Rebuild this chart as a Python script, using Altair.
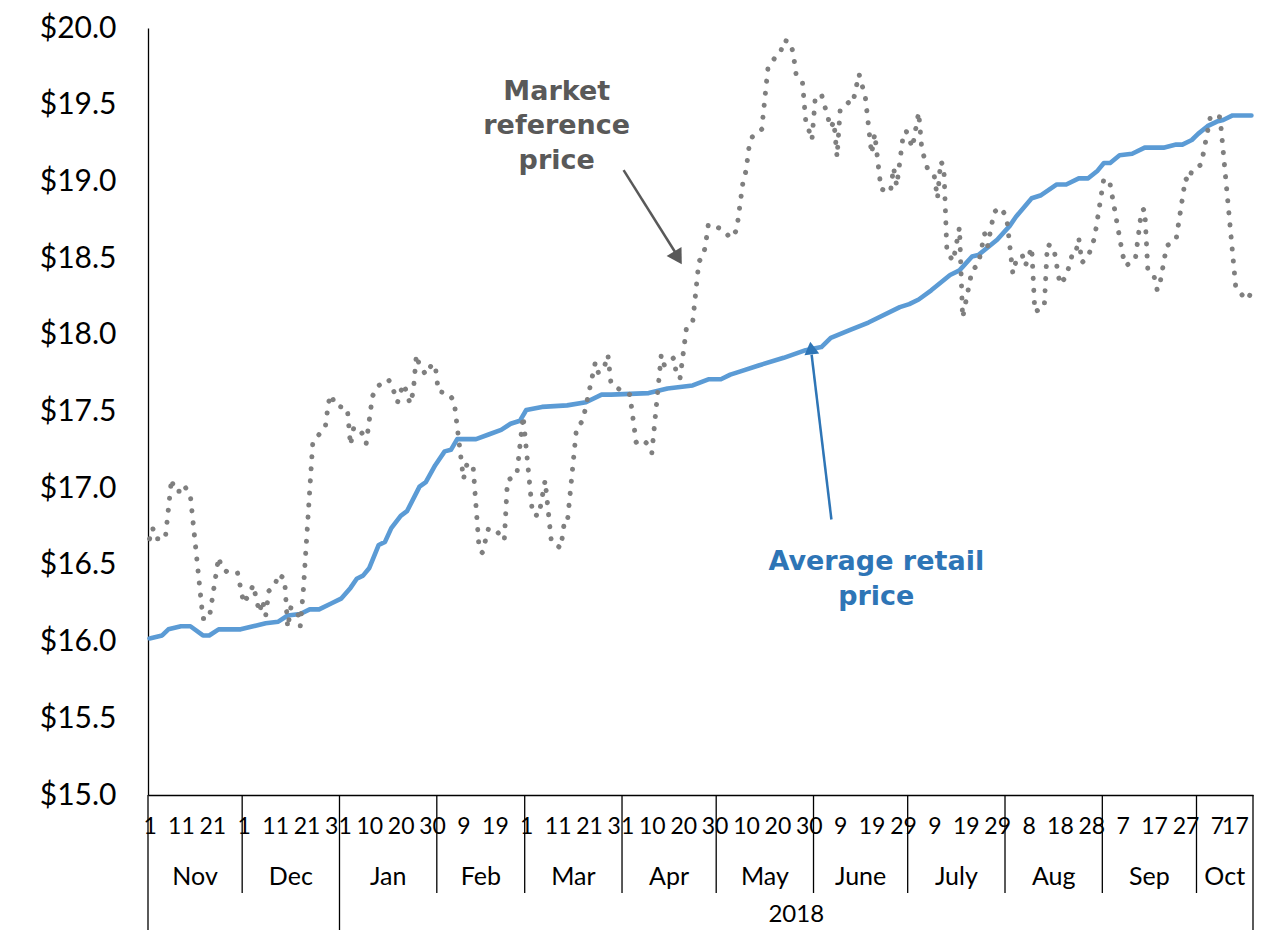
import json
import datetime as dt
import altair as alt
import pandas as pd

START = dt.date(2017, 11, 1)
N_DAYS = 352

# Average retail price (day offset from 1 Nov 2017, $)
blue_off = [0, 4, 6, 10, 13, 17, 19, 22, 29, 33, 37, 41, 44, 48, 51, 54, 58, 61, 64, 66,
            68, 70, 73, 75, 77, 80, 82, 86, 88, 91, 94, 96, 98, 104, 108, 112, 115, 118, 120, 125,
            133, 139, 144, 147, 159, 165, 173, 178, 182, 185, 188, 194, 202, 209, 214, 217, 223, 229, 239, 242,
            245, 249, 255, 258, 262, 264, 270, 274, 276, 281, 284, 289, 292, 296, 299, 302, 304, 306, 309, 313,
            317, 323, 327, 329, 332, 334, 337, 340, 342, 345, 351]
blue_val = [16.02, 16.04, 16.08, 16.10, 16.10, 16.04, 16.04, 16.08, 16.08, 16.10, 16.12, 16.13, 16.17, 16.18, 16.21, 16.21, 16.25, 16.28, 16.35, 16.41,
            16.43, 16.48, 16.63, 16.65, 16.74, 16.82, 16.85, 17.01, 17.04, 17.15, 17.24, 17.25, 17.32, 17.32, 17.35, 17.38, 17.42, 17.44, 17.51, 17.53,
            17.54, 17.56, 17.61, 17.61, 17.62, 17.65, 17.67, 17.71, 17.71, 17.74, 17.76, 17.80, 17.85, 17.90, 17.92, 17.98, 18.03, 18.08, 18.18, 18.20,
            18.23, 18.29, 18.39, 18.42, 18.51, 18.52, 18.62, 18.71, 18.77, 18.89, 18.91, 18.98, 18.98, 19.02, 19.02, 19.07, 19.12, 19.12, 19.17, 19.18,
            19.22, 19.22, 19.24, 19.24, 19.27, 19.31, 19.36, 19.39, 19.40, 19.43, 19.43]

# Market reference price (day offset, $)
gray_off = [0, 1, 2, 5, 7, 8, 10, 11, 13, 17, 19, 22, 23, 25, 28, 30, 32, 33, 35, 36,
            37, 38, 40, 41, 43, 44, 45, 47, 48, 49, 52, 54, 56, 57, 58, 59, 61, 63, 64, 65,
            66, 68, 69, 71, 73, 76, 77, 79, 80, 81, 83, 84, 85, 86, 88, 90, 91, 92, 95, 97,
            100, 101, 103, 105, 106, 108, 111, 113, 114, 117, 119, 122, 124, 126, 128, 131, 132, 133, 136, 138,
            142, 143, 145, 146, 147, 150, 153, 155, 157, 159, 160, 163, 164, 167, 168, 169, 171, 173, 175, 176,
            177, 178, 181, 183, 185, 187, 189, 190, 191, 192, 195, 197, 199, 201, 202, 204, 205, 206, 208, 209,
            211, 212, 214, 217, 218, 219, 220, 223, 224, 226, 228, 230, 231, 233, 236, 237, 238, 240, 241, 243,
            245, 246, 248, 250, 251, 252, 253, 254, 256, 258, 259, 262, 264, 266, 267, 269, 271, 273, 275, 276,
            278, 279, 281, 282, 285, 286, 288, 290, 292, 294, 295, 296, 297, 299, 301, 304, 306, 310, 311, 314,
            316, 317, 318, 320, 321, 322, 324, 327, 330, 331, 332, 335, 338, 341, 346, 348, 350, 351]
gray_val = [16.67, 16.74, 16.67, 16.67, 17.06, 16.98, 16.98, 17.02, 16.95, 16.15, 16.15, 16.55, 16.48, 16.45, 16.45, 16.25, 16.32, 16.37, 16.19, 16.27,
            16.17, 16.33, 16.37, 16.44, 16.41, 16.09, 16.22, 16.21, 16.10, 16.34, 17.30, 17.35, 17.40, 17.56, 17.61, 17.54, 17.53, 17.52, 17.28, 17.39,
            17.40, 17.35, 17.29, 17.60, 17.67, 17.71, 17.68, 17.56, 17.63, 17.68, 17.55, 17.63, 17.87, 17.80, 17.74, 17.81, 17.80, 17.63, 17.62, 17.57,
            17.06, 17.15, 17.16, 16.60, 16.58, 16.74, 16.71, 16.66, 17.05, 17.09, 17.47, 16.83, 16.82, 17.05, 16.65, 16.61, 16.76, 16.76, 17.39, 17.44,
            17.82, 17.75, 17.80, 17.87, 17.68, 17.64, 17.61, 17.30, 17.32, 17.28, 17.23, 17.87, 17.80, 17.85, 17.72, 17.72, 18.04, 18.08, 18.48, 18.50,
            18.57, 18.72, 18.70, 18.68, 18.63, 18.68, 18.99, 19.07, 19.23, 19.29, 19.34, 19.74, 19.80, 19.84, 19.92, 19.91, 19.84, 19.69, 19.64, 19.40,
            19.27, 19.53, 19.57, 19.35, 19.39, 19.16, 19.47, 19.52, 19.51, 19.70, 19.55, 19.18, 19.31, 18.95, 18.93, 19.09, 18.97, 19.29, 19.33, 19.22,
            19.45, 19.21, 19.07, 19.03, 18.89, 19.13, 19.10, 18.54, 18.48, 18.70, 18.11, 18.42, 18.46, 18.66, 18.58, 18.80, 18.83, 18.77, 18.40, 18.48,
            18.52, 18.45, 18.57, 18.15, 18.18, 18.59, 18.57, 18.33, 18.38, 18.53, 18.53, 18.63, 18.47, 18.51, 18.63, 19.02, 18.98, 18.52, 18.45, 18.49,
            18.81, 18.82, 18.42, 18.38, 18.29, 18.35, 18.58, 18.62, 19.02, 19.00, 19.07, 19.11, 19.43, 19.42, 18.31, 18.26, 18.23, 18.29]

month_names = ["Nov", "Dec", "Jan", "Feb", "Mar", "Apr", "May", "June", "July", "Aug", "Sep", "Oct"]
month_start = [0, 30, 61, 92, 120, 151, 181, 212, 242, 273, 304, 334]
year_names = ["2018"]
year_start = [61]
long_bounds = [0, 61, N_DAYS]          # group borders running to the bottom row
y_ticks = [15.0, 15.5, 16.0, 16.5, 17.0, 17.5, 18.0, 18.5, 19.0, 19.5, 20.0]

day_tick_off = list(range(0, N_DAYS, 10))
day_tick_lbl = [str((START + dt.timedelta(days=o)).day) for o in day_tick_off]

# annotations (data coordinates)
mkt_text = ["Market", "reference", "price"]
mkt_text_off = [129.7, 129.7, 129.7]
mkt_text_val = [19.585, 19.358, 19.131]
ret_text = ["Average retail", "price"]
ret_text_off = [231.5, 231.5]
ret_text_val = [16.518, 16.29]
mkt_arrow = dict(off=151.0, val=19.073, off2=167.4, val2=18.54)
mkt_head = dict(off=167.9, val=18.515)
ret_arrow = dict(off=217.2, val=16.796, off2=210.9, val2=17.87)
ret_head = dict(off=210.8, val=17.90)

FONT = "Lato"
ANN_FONT = "DejaVu Sans"
BLACK = "#000000"
BLUE = "#5B9BD5"
GRAY = "#7F7F7F"
ANN_GRAY = "#595959"
ANN_BLUE = "#2E75B6"

PLOT_W, PLOT_H = 1105, 767

blue_df = pd.DataFrame({"off": blue_off, "val": blue_val})
gray_df = pd.DataFrame({"off": gray_off, "val": gray_val})

ends = month_start[1:] + [N_DAYS]
month_df = pd.DataFrame({
    "off": [(s + e) / 2 - 0.5 for s, e in zip(month_start, ends)],
    "name": month_names,
})
year_df = pd.DataFrame({
    "off": [(s + N_DAYS) / 2 - 0.5 for s in year_start],
    "name": year_names,
})
short_df = pd.DataFrame({"off": [s - 0.5 for s in month_start if s not in long_bounds]})
long_df = pd.DataFrame({"off": [s - 0.5 for s in long_bounds]})

xscale = alt.Scale(domain=[-0.5, N_DAYS - 0.5], nice=False, zero=False)
yscale = alt.Scale(domain=[15, 20], nice=False, zero=False)

label_expr = json.dumps(day_tick_lbl) + "[round(datum.value / 10)]"
last_tick = day_tick_off[-1]

x_axis = alt.Axis(values=day_tick_off, labelExpr=label_expr, ticks=False, tickSize=0,
                  grid=False, title=None, domainColor=BLACK, domainWidth=1.3,
                  labelFont=FONT, labelFontSize=23, labelColor=BLACK, labelPadding=31,
                  labelAlign={"expr": f"datum.value >= {last_tick} ? 'right' : 'center'"},
                  labelBaseline="middle", labelOverlap=False, labelBound=False, labelFlush=False)
y_axis = alt.Axis(values=y_ticks, format="$.1f", ticks=False, tickSize=0, grid=False,
                  title=None, domainColor=BLACK, domainWidth=1.3, labelFont=FONT,
                  labelFontSize=30, labelColor=BLACK, labelPadding=32)

X = alt.X("off:Q", scale=xscale, axis=x_axis)
Y = alt.Y("val:Q", scale=yscale, axis=y_axis)

blue = alt.Chart(blue_df).mark_line(color=BLUE, strokeWidth=4.6, strokeJoin="round",
                                    strokeCap="round").encode(x=X, y=Y)
gray = alt.Chart(gray_df).mark_line(color=GRAY, strokeWidth=5.0, strokeDash=[0.1, 12.0],
                                    strokeCap="round", strokeJoin="round").encode(x=X, y=Y)

short_rules = alt.Chart(short_df).mark_rule(color=BLACK, strokeWidth=1.3).encode(
    x=X, y=alt.value(PLOT_H), y2=alt.value(PLOT_H + 98))
long_rules = alt.Chart(long_df).mark_rule(color=BLACK, strokeWidth=1.3).encode(
    x=X, y=alt.value(PLOT_H), y2=alt.value(PLOT_H + 140))

month_text = alt.Chart(month_df).mark_text(font=FONT, fontSize=25, color=BLACK,
                                           baseline="middle", align="center").encode(
    x=X, y=alt.value(PLOT_H + 82), text="name:N")
year_text = alt.Chart(year_df).mark_text(font=FONT, fontSize=24, color=BLACK,
                                         baseline="middle", align="center").encode(
    x=X, y=alt.value(PLOT_H + 120), text="name:N")

mkt_df = pd.DataFrame({"off": mkt_text_off, "val": mkt_text_val, "t": mkt_text})
ret_df = pd.DataFrame({"off": ret_text_off, "val": ret_text_val, "t": ret_text})
mkt_lbl = alt.Chart(mkt_df).mark_text(font=ANN_FONT, fontSize=27, fontWeight="bold", color=ANN_GRAY,
                                      baseline="middle", align="center").encode(x=X, y=Y, text="t:N")
ret_lbl = alt.Chart(ret_df).mark_text(font=ANN_FONT, fontSize=27, fontWeight="bold", color=ANN_BLUE,
                                      baseline="middle", align="center").encode(x=X, y=Y, text="t:N")

mkt_arrow_line = alt.Chart(pd.DataFrame([mkt_arrow])).mark_rule(color=ANN_GRAY, strokeWidth=2.5).encode(
    x=X, y=Y, x2=alt.X2("off2:Q"), y2=alt.Y2("val2:Q"))
ret_arrow_line = alt.Chart(pd.DataFrame([ret_arrow])).mark_rule(color=ANN_BLUE, strokeWidth=2.5).encode(
    x=X, y=Y, x2=alt.X2("off2:Q"), y2=alt.Y2("val2:Q"))
mkt_arrow_head = alt.Chart(pd.DataFrame([mkt_head])).mark_point(
    shape="triangle", filled=True, size=300, angle=149, color=ANN_GRAY, opacity=1, strokeWidth=0
).encode(x=X, y=Y)
ret_arrow_head = alt.Chart(pd.DataFrame([ret_head])).mark_point(
    shape="triangle", filled=True, size=220, angle=353, color=ANN_BLUE, opacity=1, strokeWidth=0
).encode(x=X, y=Y)

chart = alt.layer(
    blue, gray, short_rules, long_rules, month_text, year_text,
    mkt_arrow_line, mkt_arrow_head, ret_arrow_line, ret_arrow_head, mkt_lbl, ret_lbl
).properties(
    width=PLOT_W, height=PLOT_H,
    padding={"left": 140, "right": 1, "top": 20, "bottom": 135},
    autosize=alt.AutoSizeParams(type="none"),
    background="white",
).configure_view(stroke=None)

chart.save("out.html", embed_options={"renderer": "svg", "actions": False})
